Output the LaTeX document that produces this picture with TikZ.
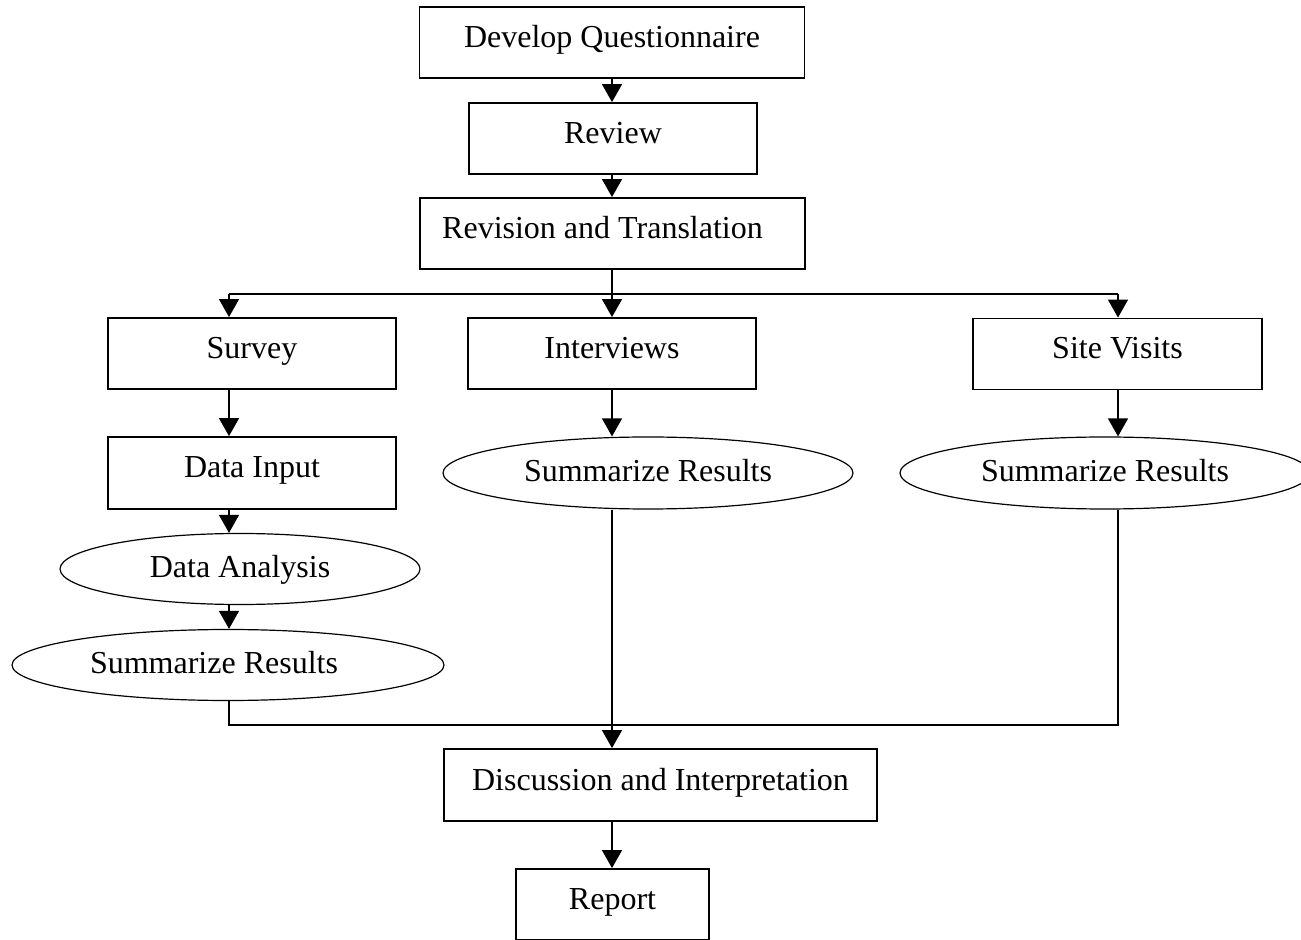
\documentclass[tikz,border=0pt]{standalone}
\usepackage{fontspec}
\setmainfont{Liberation Serif}
\usepackage{tikz}
\usetikzlibrary{shapes.geometric, arrows.meta}

\tikzset{
	box/.style={draw, line width=0.9pt, rectangle, minimum height=35.5pt,
		text height=0.75em, text depth=0.25em, inner sep=0pt},
	oval/.style={draw, line width=0.6pt, ellipse, minimum height=35.5pt,
		text height=1.15em, text depth=0.25em, inner sep=0pt},
	wire/.style={draw, line width=0.65pt},
	arr/.style={wire, -{Triangle[width=10pt, length=9pt]}}
}

\begin{document}
\begin{tikzpicture}[x=0.5pt, y=-0.5pt, font=\fontsize{16pt}{19pt}\selectfont]
	\useasboundingbox (0, 0) rectangle (1301, 940);
	% Columns and junctions:
	\coordinate (colA) at (229, 0);
	\coordinate (colB) at (612, 0);
	\coordinate (colC) at (1118, 0);
	\coordinate (fork) at (612, 294);
	\coordinate (join) at (612, 725);

	% Boxes and ovals:
	\node[box, minimum width=192.5pt] (develop) at (612, 42.5) {Develop Questionnaire};
	\node[box, minimum width=144pt] (review) at (613, 138.5) {Review};
	\node[box, minimum width=192.5pt] (revision) at (612.5, 233.5) {Revision and Translation\kern10pt};
	\node[box, minimum width=144pt] (survey) at (252, 353.5) {Survey};
	\node[box, minimum width=144pt] (interviews) at (612, 353.5) {Interviews};
	\node[box, minimum width=144.5pt] (site) at (1117.5, 354) {Site Visits};
	\node[box, minimum width=144pt, minimum height=36pt] (datainput) at (252, 473) {Data Input};
	\node[oval, minimum width=180pt] (analysis) at (240, 569) {Data Analysis};
	\node[oval, minimum width=216pt] (sumsurvey) at (228, 665) {Summarize Results\kern14pt};
	\node[oval, minimum width=205pt, minimum height=36pt] (suminterv) at (648, 473) {Summarize Results};
	\node[oval, minimum width=205pt, minimum height=36pt] (sumsite) at (1105, 473) {Summarize Results};
	\node[box, minimum width=216.5pt, minimum height=36pt] (discuss) at (660.5, 785) {Discussion and Interpretation};
	\node[box, minimum width=96.5pt] (report) at (612.5, 904.5) {Report};

	% Connectors:
	\draw[arr] (develop.south -| colB) -- (review.north -| colB);
	\draw[arr] (review.south -| colB) -- (revision.north -| colB);
	\draw[wire] (revision.south -| colB) -- (fork);
	\draw[wire] (fork -| colA) -- (fork -| colC);
	\draw[arr] (fork -| colA) -- (survey.north -| colA);
	\draw[arr] (fork) -- (interviews.north -| colB);
	\draw[arr] (fork -| colC) -- (site.north -| colC);
	\draw[arr] (survey.south -| colA) -- (datainput.north -| colA);
	\draw[arr] (datainput.south -| colA) -- (analysis.north -| colA);
	\draw[arr] (analysis.south -| colA) -- (sumsurvey.north -| colA);
	\draw[arr] (interviews.south -| colB) -- (suminterv.north -| colB);
	\draw[arr] (site.south -| colC) -- (sumsite.north -| colC);
	\draw[wire] (sumsurvey.south -| colA) |- (join);
	\draw[wire] (sumsite.south -| colC) |- (join);
	\draw[wire] (suminterv.south -| colB) -- (join);
	\draw[arr] (join) -- (discuss.north -| colB);
	\draw[arr] (discuss.south -| colB) -- (report.north -| colB);
\end{tikzpicture}
\end{document}
